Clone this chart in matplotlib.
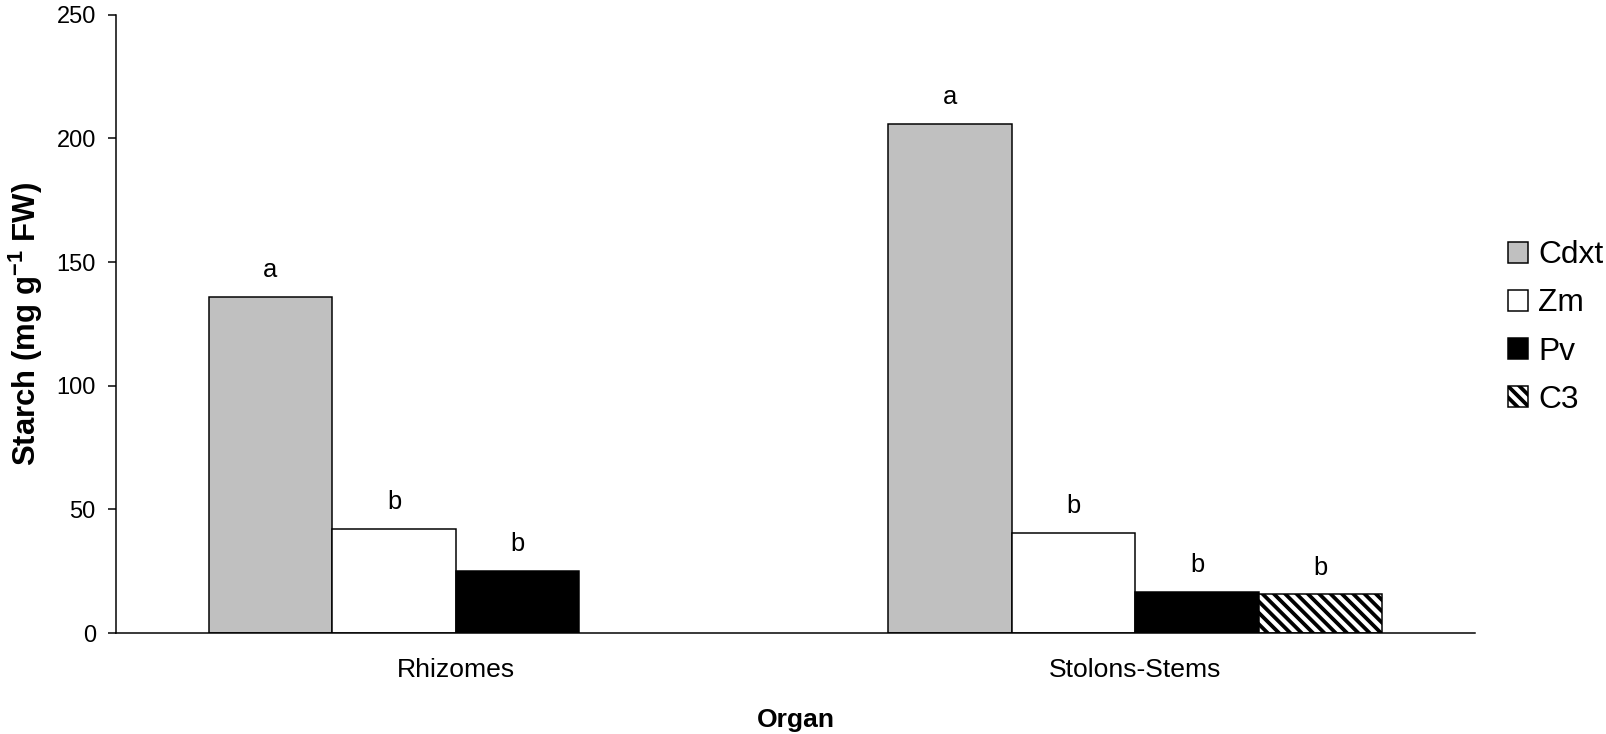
import numpy as np
import matplotlib
matplotlib.use("Agg")
import matplotlib.pyplot as plt
from matplotlib.patches import Patch

plt.rcParams["font.family"] = ["Liberation Sans", "DejaVu Sans"]
plt.rcParams["hatch.linewidth"] = 2.0

DPI = 136

organs = ["Rhizomes", "Stolons-Stems"]
species = ["Cdxt", "Zm", "Pv", "C3"]

cdxt = [136, 206]
zm = [42, 40.6]
pv = [25, 16.7]
c3 = [np.nan, 15.6]

cdxt_letters = ["a", "a"]
zm_letters = ["b", "b"]
pv_letters = ["b", "b"]
c3_letters = ["", "b"]

series = [cdxt, zm, pv, c3]
letters = [cdxt_letters, zm_letters, pv_letters, c3_letters]
faces = ["#C0C0C0", "white", "black", "white"]
# repeated backslashes -> dense south-east stripes
hatches = [None, None, None, chr(92) * 4]

fig = plt.figure(figsize=(1606 / DPI, 734 / DPI), dpi=DPI)
ax = fig.add_axes([116 / 1606, 1 - 633 / 734, (1475 - 116) / 1606, (633 - 14.7) / 734])

x = np.arange(len(organs))
width = 1 / 5.5

for i, vals in enumerate(series):
    pos = x + (i - 1.5) * width
    ax.bar(pos, vals, width, color=faces[i], edgecolor="black",
           linewidth=0.8, hatch=hatches[i], label=species[i])
    for xp, v, lab in zip(pos, vals, letters[i]):
        if np.isnan(v) or not lab:
            continue
        ax.annotate(lab, (xp, v), xytext=(0, 10.5), textcoords="offset points",
                    ha="center", va="baseline", fontsize=13.5)

ax.set_xlim(-0.5, 1.5)
ax.set_ylim(0, 250)
ax.set_yticks(np.arange(0, 251, 50))
ax.set_xticks(x)
ax.set_xticklabels(organs)

ax.spines["top"].set_visible(False)
ax.spines["right"].set_visible(False)
ax.spines["left"].set_linewidth(0.8)
ax.spines["bottom"].set_linewidth(0.8)
ax.tick_params(axis="y", direction="out", length=4.2, width=0.8, pad=6.5, labelsize=12.5)
ax.tick_params(axis="x", length=0, pad=13, labelsize=14)

ax.set_ylabel("Starch (mg g$^{\\mathregular{-1}}$ FW)", fontsize=16.5,
              fontweight="bold", labelpad=6)
ax.set_xlabel("Organ", fontsize=14, fontweight="bold", labelpad=14)

handles = [Patch(facecolor=faces[i], edgecolor="black", linewidth=0.8,
                 hatch=hatches[i]) for i in range(4)]
fig.legend(handles, species, loc="center left",
           bbox_to_anchor=(1508 / 1606, 1 - 327.5 / 734),
           frameon=False, fontsize=16.8, handlelength=0.63, handleheight=0.63,
           handletextpad=0.32, labelspacing=0.57, borderpad=0, borderaxespad=0)

fig.savefig("out.png", dpi=DPI)
